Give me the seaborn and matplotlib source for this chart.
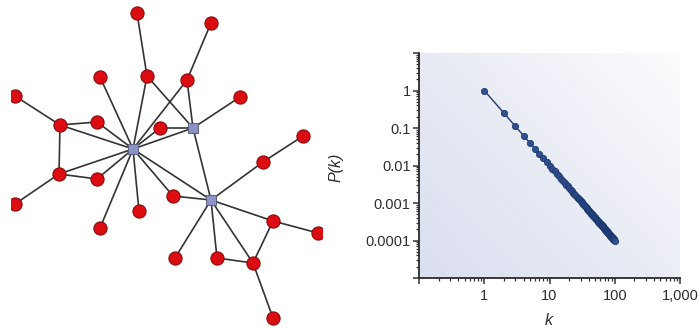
import numpy as np
import pandas as pd
import matplotlib
matplotlib.use("Agg")
import matplotlib.pyplot as plt
from matplotlib.colors import LinearSegmentedColormap
from matplotlib.ticker import FixedLocator, FixedFormatter, LogLocator, NullFormatter
import seaborn as sns

sns.set_style("white")
plt.rcParams["font.family"] = ["Liberation Sans", "DejaVu Sans"]

# ---- scale-free network: node layout (x, y) and node type ----
node_x = [133, 193, 211, 137, 211, 100, 147, 187, 15, 240, 60, 97, 160, 303,
          263, 59, 97, 173, 15, 139, 100, 273, 318, 175, 217, 253, 273]
node_y = [149, 128, 200, 13, 23, 77, 76, 80, 96, 97, 125, 122, 128, 136,
          162, 174, 179, 196, 204, 211, 228, 221, 233, 258, 258, 263, 318]
node_kind = ["hub", "hub", "hub"] + ["node"] * 24

edges = [
    (0, 5), (0, 6), (0, 7), (0, 10), (0, 11), (0, 12), (0, 15), (0, 16),
    (0, 17), (0, 19), (0, 20), (0, 1), (0, 2),
    (1, 6), (1, 7), (1, 9), (1, 12), (1, 2),
    (7, 4), (6, 3),
    (8, 10), (10, 11), (10, 15), (15, 16), (15, 18),
    (2, 14), (2, 17), (2, 21), (2, 23), (2, 24), (2, 25),
    (14, 13), (21, 22), (21, 25), (24, 25), (25, 26),
]

# ---- degree distribution P(k) ----
k_values = list(range(1, 101))
pk_values = [
    1, 0.25, 0.111, 0.0625, 0.04, 0.0278, 0.0204, 0.0156, 0.0123, 0.01,
    0.00826, 0.00694, 0.00592, 0.0051, 0.00444, 0.00391, 0.00346, 0.00309, 0.00277, 0.0025,
    0.00227, 0.00207, 0.00189, 0.00174, 0.0016, 0.00148, 0.00137, 0.00128, 0.00119, 0.00111,
    0.00104, 0.000977, 0.000918, 0.000865, 0.000816, 0.000772, 0.00073, 0.000693, 0.000657, 0.000625,
    0.000595, 0.000567, 0.000541, 0.000517, 0.000494, 0.000473, 0.000453, 0.000434, 0.000416, 0.0004,
    0.000384, 0.00037, 0.000356, 0.000343, 0.000331, 0.000319, 0.000308, 0.000297, 0.000287, 0.000278,
    0.000269, 0.00026, 0.000252, 0.000244, 0.000237, 0.00023, 0.000223, 0.000216, 0.00021, 0.000204,
    0.000198, 0.000193, 0.000188, 0.000183, 0.000178, 0.000173, 0.000169, 0.000164, 0.00016, 0.000156,
    0.000152, 0.000149, 0.000145, 0.000142, 0.000138, 0.000135, 0.000132, 0.000129, 0.000126, 0.000123,
    0.000121, 0.000118, 0.000116, 0.000113, 0.000111, 0.000109, 0.000106, 0.000104, 0.000102, 0.0001,
]

x_ticks = [0.1, 1, 10, 100, 1000]
x_tick_labels = ["", "1", "10", "100", "1,000"]
y_ticks = [1e-5, 1e-4, 1e-3, 1e-2, 1e-1, 1, 10]
y_tick_labels = ["", "0.0001", "0.001", "0.01", "0.1", "1", ""]

W, H = 698, 329
fig = plt.figure(figsize=(W / 100, H / 100), dpi=100)
fig.patch.set_facecolor("white")

# ---------------- network panel ----------------
axn = fig.add_axes([11 / W, 0, (322 - 11) / W, 1])
axn.set_xlim(11, 322)
axn.set_ylim(329, 0)
axn.axis("off")

nodes = pd.DataFrame({"x": node_x, "y": node_y, "kind": node_kind})
for a, b in edges:
    axn.plot([node_x[a], node_x[b]], [node_y[a], node_y[b]],
             color="#333333", lw=1.2, zorder=1, solid_capstyle="round")

sns.scatterplot(data=nodes[nodes.kind == "node"], x="x", y="y", ax=axn,
                s=90, color="#dc0d12", edgecolor="#8a0a0a", linewidth=0.8,
                zorder=3, legend=False)
sns.scatterplot(data=nodes[nodes.kind == "hub"], x="x", y="y", ax=axn,
                s=62, marker="s", color="#8b93c6", edgecolor="#5c6080",
                linewidth=0.7, zorder=3, legend=False)
axn.set_xlabel("")
axn.set_ylabel("")

# ---------------- degree distribution panel ----------------
left, right, top, bottom = 419, 680, 53, 278
ax = fig.add_axes([left / W, (H - bottom) / H, (right - left) / W, (bottom - top) / H])

# soft diagonal background shading
grad_cmap = LinearSegmentedColormap.from_list("bg", ["#dadeef", "#eaecf5", "#fcfcfe"])
gx, gy = np.meshgrid(np.linspace(0, 1, 200), np.linspace(0, 1, 200))
ax.imshow(gx * 0.55 + gy * 0.45, cmap=grad_cmap, extent=[0, 1, 0, 1],
          origin="lower", transform=ax.transAxes, aspect="auto", zorder=0)

dist = pd.DataFrame({"k": k_values, "P": pk_values})
sns.lineplot(data=dist, x="k", y="P", ax=ax, color="#1d3a72", lw=1.0,
             marker="o", markersize=4.5, markerfacecolor="#2f4f8f",
             markeredgecolor="#1d3a72", markeredgewidth=0.6, zorder=3)

ax.set_xscale("log")
ax.set_yscale("log")
ax.set_xlim(0.1, 1000)
ax.set_ylim(1e-5, 10)

ax.xaxis.set_major_locator(FixedLocator(x_ticks))
ax.xaxis.set_major_formatter(FixedFormatter(x_tick_labels))
ax.yaxis.set_major_locator(FixedLocator(y_ticks))
ax.yaxis.set_major_formatter(FixedFormatter(y_tick_labels))
ax.xaxis.set_minor_locator(LogLocator(base=10, subs=np.arange(2, 10)))
ax.yaxis.set_minor_locator(LogLocator(base=10, subs=np.arange(2, 10)))
ax.xaxis.set_minor_formatter(NullFormatter())
ax.yaxis.set_minor_formatter(NullFormatter())

ax.tick_params(which="major", direction="out", length=4, width=1.1,
               color="#333333", labelsize=10.5, labelcolor="#2e2e2e", pad=2,
               bottom=True, left=True)
ax.tick_params(axis="x", which="major", pad=4)
ax.tick_params(which="minor", direction="out", length=2.5, width=0.9,
               color="#333333", bottom=True, left=True)

for s in ["top", "right"]:
    ax.spines[s].set_visible(False)
for s in ["left", "bottom"]:
    ax.spines[s].set_color("#2a2a2a")
    ax.spines[s].set_linewidth(1.3)

ax.set_xlabel("k", fontstyle="italic", fontsize=11.5, color="#2e2e2e")
ax.set_ylabel("P(k)", fontstyle="italic", fontsize=11.5, color="#2e2e2e")
ax.xaxis.set_label_coords((549 - left) / (right - left), -0.155)
ax.yaxis.set_label_coords((343 - left) / (right - left), 0.49)

fig.savefig("out.png", dpi=100, facecolor="white")
